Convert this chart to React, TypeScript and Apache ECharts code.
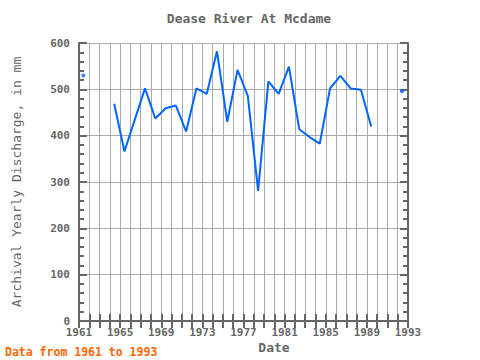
import React, { useEffect, useRef } from "react";
import * as echarts from "echarts";

const years = [
  1961, 1962, 1963, 1964, 1965, 1966, 1967, 1968, 1969, 1970, 1971, 1972, 1973, 1974, 1975, 1976,
  1977, 1978, 1979, 1980, 1981, 1982, 1983, 1984, 1985, 1986, 1987, 1988, 1989, 1990, 1991, 1992,
];
const discharge: (number | null)[] = [
  530, null, null, 469, 366, 434, 502, 437, 459, 465, 409, 502, 490, 582, 430, 542,
  486, 281, 517, 490, 549, 414, 397, 383, 502, 529, 502, 499, 420, null, null, 496,
];
const yTicks = [0, 100, 200, 300, 400, 500, 600];
const xLabelYears = [1961, 1965, 1969, 1973, 1977, 1981, 1985, 1989, 1993];

// values are plotted at mid-year
const MID_YEAR = 0.42;

const FONT = "DejaVu Sans Mono";
const GREY = "#666666";
const BLUE = "#0066ff";

export default function App() {
  const ref = useRef<HTMLDivElement>(null);
  useEffect(() => {
    if (!ref.current) return;
    const chart = echarts.init(ref.current, undefined, { renderer: "svg" });
    const lineData = years.map((y, i) => [y + MID_YEAR, discharge[i] == null ? "-" : discharge[i]]);
    const isolated = years
      .map((y, i) => {
        const v = discharge[i];
        if (v == null) return null;
        const prev = i > 0 ? discharge[i - 1] : null;
        const next = i < discharge.length - 1 ? discharge[i + 1] : null;
        return prev == null && next == null ? [y + MID_YEAR, v] : null;
      })
      .filter((d) => d !== null);

    const xBase = {
      type: "value" as const,
      min: 1961,
      max: 1993,
      interval: 1,
      axisLine: { show: true, lineStyle: { color: GREY, width: 2 } },
      axisTick: { show: true, inside: true, length: 7, lineStyle: { color: GREY, width: 2 } },
    };
    const yBase = {
      type: "value" as const,
      min: yTicks[0],
      max: yTicks[yTicks.length - 1],
      interval: 100,
      axisLine: { show: true, lineStyle: { color: GREY, width: 2 } },
      axisTick: { show: true, inside: true, length: 8, lineStyle: { color: GREY, width: 2 } },
      minorTick: { show: true, splitNumber: 5, length: 5, lineStyle: { color: GREY, width: 2 } },
    };

    chart.setOption({
      animation: false,
      backgroundColor: "#ffffff",
      grid: {
        left: 79,
        right: 72,
        top: 43,
        bottom: 39,
        containLabel: false,
        outerBoundsMode: "none",
      },
      graphic: [
        {
          type: "text",
          x: 249,
          y: 18,
          style: {
            text: "Dease River At Mcdame",
            fill: GREY,
            font: `bold 13px "${FONT}"`,
            textAlign: "center",
            textVerticalAlign: "middle",
          },
        },
        {
          type: "text",
          x: 274,
          y: 347,
          style: {
            text: "Date",
            fill: GREY,
            font: `bold 13px "${FONT}"`,
            textAlign: "center",
            textVerticalAlign: "middle",
          },
        },
        {
          type: "text",
          x: 5,
          y: 352,
          style: {
            text: "Data from 1961 to 1993",
            fill: "#ff6600",
            font: `bold 11.5px "${FONT}"`,
            textAlign: "left",
            textVerticalAlign: "middle",
          },
        },
      ],
      xAxis: [
        {
          ...xBase,
          position: "bottom",
          axisLabel: {
            show: true,
            margin: 6,
            color: GREY,
            fontFamily: FONT,
            fontWeight: "bold",
            fontSize: 11,
            showMinLabel: true,
            showMaxLabel: true,
            formatter: (v: number) => (xLabelYears.includes(v) ? String(v) : ""),
          },
          splitLine: { show: true, lineStyle: { color: "#aaaaaa", width: 1 } },
        },
        {
          ...xBase,
          position: "top",
          axisLabel: { show: false },
          splitLine: { show: false },
        },
      ],
      yAxis: [
        {
          ...yBase,
          position: "left",
          name: "Archival Yearly Discharge, in mm",
          nameLocation: "middle",
          nameGap: 56,
          nameTextStyle: { color: GREY, fontFamily: FONT, fontSize: 13 },
          axisLabel: {
            show: true,
            margin: 9,
            color: GREY,
            fontFamily: FONT,
            fontWeight: "bold",
            fontSize: 11,
          },
          splitLine: { show: true, lineStyle: { color: "#aaaaaa", width: 1 } },
        },
        {
          ...yBase,
          position: "right",
          axisLabel: { show: false },
          splitLine: { show: false },
        },
      ],
      series: [
        {
          type: "line",
          xAxisIndex: 0,
          yAxisIndex: 0,
          data: lineData,
          connectNulls: false,
          showSymbol: false,
          lineStyle: { color: BLUE, width: 2 },
          itemStyle: { color: BLUE },
        },
        {
          type: "scatter",
          xAxisIndex: 0,
          yAxisIndex: 0,
          data: isolated,
          symbol: "circle",
          symbolSize: 4,
          itemStyle: { color: BLUE },
        },
      ],
    });
    return () => chart.dispose();
  }, []);
  return <div ref={ref} style={{ width: 480, height: 360, position: "absolute", left: 0, top: 0 }} />;
}
